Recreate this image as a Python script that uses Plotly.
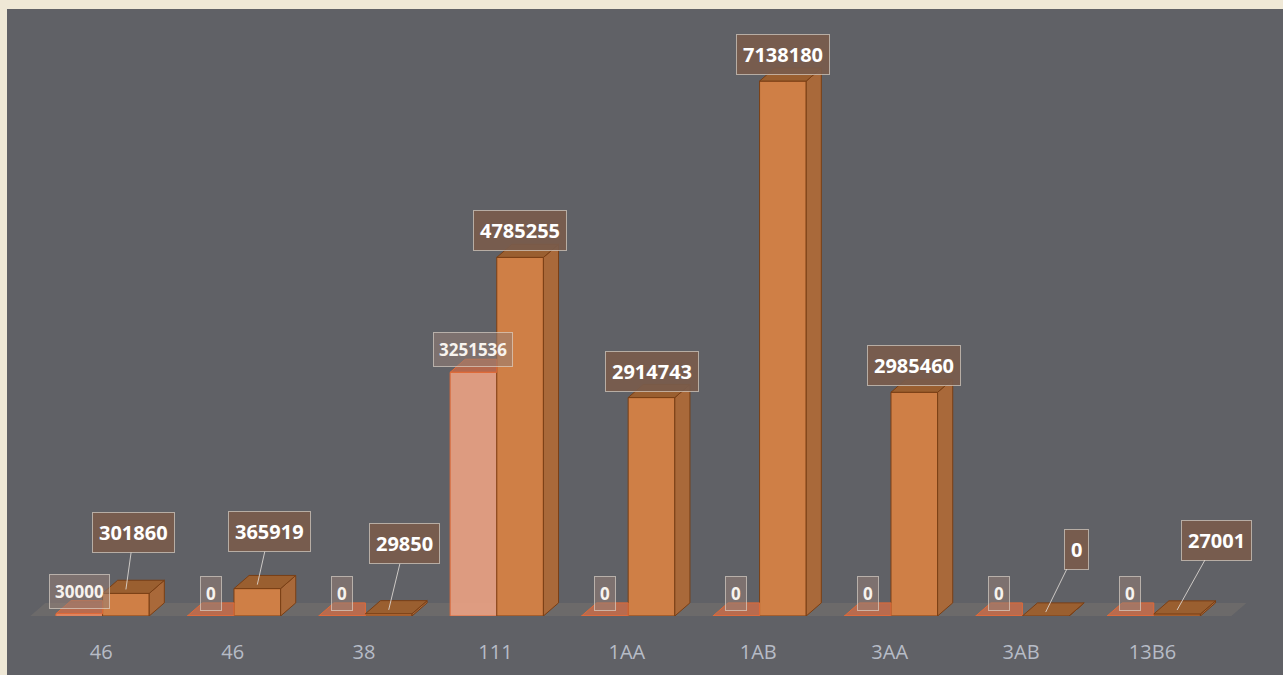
"""3D-style grouped bar chart rebuilt with Plotly."""

import plotly.graph_objects as go

# Data
categories = ["46", "46", "38", "111", "1AA", "1AB", "3AA", "3AB", "13B6"]
series_a = [30000, 0, 0, 3251536, 0, 0, 0, 0, 0]
series_b = [301860, 365919, 29850, 4785255, 2914743, 7138180, 2985460, 0, 27001]

# Colors
PAGE_BG = "#efe8d6"
PANEL_BG = "#606166"
A_FRONT = "rgba(238,163,132,0.88)"
A_LINE = "#e06a38"
A_TOP = "rgba(232,108,62,0.62)"
B_FRONT = "#cf7f46"
B_SIDE = "#a9693a"
B_TOP = "#9a5f30"
B_LINE = "#7a3f15"
TICK_COLOR = "#b7bcc6"
LABEL_B_BG = "rgba(122,92,76,0.92)"
LABEL_A_BG = "rgba(150,128,118,0.55)"
LABEL_BORDER = "rgba(225,215,205,0.65)"

# Geometry (axis units)
BAR_W = 0.355
OFF_A = -0.1675
OFF_B = 0.1875
DEPTH_X = 0.115
DEPTH_Y = 175000
Y_MAX = 8100000
X_RANGE = [-0.55, 8.75]

# leader-line offsets (px) for labels of short bars
leaders = {0: (8, -57), 1: (12, -53), 2: (16, -66), 7: (31, -63), 8: (39, -70)}

xs = list(range(len(categories)))
xa = [x + OFF_A for x in xs]
xb = [x + OFF_B for x in xs]

fig = go.Figure()

fig.add_trace(go.Bar(
    x=xa, y=series_a, width=BAR_W,
    marker=dict(color=A_FRONT, line=dict(color=A_LINE, width=1)),
))
fig.add_trace(go.Bar(
    x=xb, y=series_b, width=BAR_W,
    marker=dict(color=B_FRONT, line=dict(color=B_LINE, width=1)),
))


def _poly(points_list):
    px, py = [], []
    for pts in points_list:
        for p in pts:
            px.append(p[0])
            py.append(p[1])
        px.append(pts[0][0])
        py.append(pts[0][1])
        px.append(None)
        py.append(None)
    return px, py


a_tops, b_sides, b_tops = [], [], []
for i in xs:
    x0, x1 = xa[i] - BAR_W / 2, xa[i] + BAR_W / 2
    v = series_a[i]
    a_tops.append([(x0, v), (x0 + DEPTH_X, v + DEPTH_Y), (x1, v + DEPTH_Y), (x1, v)])
    x0, x1 = xb[i] - BAR_W / 2, xb[i] + BAR_W / 2
    v = series_b[i]
    b_sides.append([(x1, 0), (x1 + DEPTH_X, DEPTH_Y), (x1 + DEPTH_X, v + DEPTH_Y), (x1, v)])
    b_tops.append([(x0, v), (x0 + DEPTH_X, v + DEPTH_Y), (x1 + DEPTH_X, v + DEPTH_Y), (x1, v)])

for faces, fill, line in [(a_tops, A_TOP, A_LINE), (b_sides, B_SIDE, B_LINE), (b_tops, B_TOP, B_LINE)]:
    px, py = _poly(faces)
    fig.add_trace(go.Scatter(
        x=px, y=py, mode="lines", fill="toself", fillcolor=fill,
        line=dict(color=line, width=1), hoverinfo="skip",
    ))

# value labels
annotations = []
for i in xs:
    annotations.append(dict(
        x=xa[i], y=series_a[i], xref="x", yref="y",
        text=f"<b>{series_a[i]}</b>", showarrow=False,
        yanchor="bottom", yshift=5,
        font=dict(family="Open Sans", size=17, color="#f7f3ee"),
        bgcolor=LABEL_A_BG, bordercolor=LABEL_BORDER, borderwidth=1, borderpad=5,
    ))
    label = dict(
        x=xb[i], y=series_b[i], xref="x", yref="y",
        text=f"<b>{series_b[i]}</b>",
        font=dict(family="Open Sans", size=20, color="#ffffff"),
        bgcolor=LABEL_B_BG, bordercolor=LABEL_BORDER, borderwidth=1, borderpad=6,
    )
    if i in leaders:
        ax, ay = leaders[i]
        label.update(
            y=series_b[i] + DEPTH_Y * 0.3, showarrow=True, arrowhead=0,
            arrowwidth=1, arrowcolor="rgba(225,220,215,0.85)",
            ax=ax, ay=ay, standoff=0,
        )
    else:
        label.update(showarrow=False, yanchor="bottom", yshift=6)
    annotations.append(label)

# gray panel behind chart and translucent floor
floor_x0, floor_x1 = -0.54, 8.6
shapes = [
    dict(type="rect", xref="paper", yref="paper", layer="below",
         x0=-22 / 1222, x1=1.03, y0=-0.1, y1=1.0,
         fillcolor=PANEL_BG, line=dict(width=0)),
    dict(type="path", xref="x", yref="y", layer="below",
         path=(f"M {floor_x0},0 L {floor_x1},0 L {floor_x1 + DEPTH_X},{DEPTH_Y} "
               f"L {floor_x0 + DEPTH_X},{DEPTH_Y} Z"),
         fillcolor="rgba(165,150,130,0.18)", line=dict(width=0)),
]

fig.update_layout(
    width=1283, height=675,
    margin=dict(l=29, r=32, t=9, b=59),
    paper_bgcolor=PAGE_BG,
    plot_bgcolor="rgba(0,0,0,0)",
    barmode="overlay",
    showlegend=False,
    hovermode=False,
    annotations=annotations,
    shapes=shapes,
    xaxis=dict(
        range=X_RANGE, tickvals=xs, ticktext=categories,
        showgrid=False, zeroline=False, showline=False,
        ticks="outside", ticklen=18, tickcolor="rgba(0,0,0,0)",
        tickfont=dict(family="Open Sans", size=20, color=TICK_COLOR),
    ),
    yaxis=dict(
        range=[0, Y_MAX], visible=False,
        showgrid=False, zeroline=False,
    ),
)

fig.write_html(
    "out.html",
    config={"displayModeBar": False},
    post_script="document.body.style.margin = '0';",
)
